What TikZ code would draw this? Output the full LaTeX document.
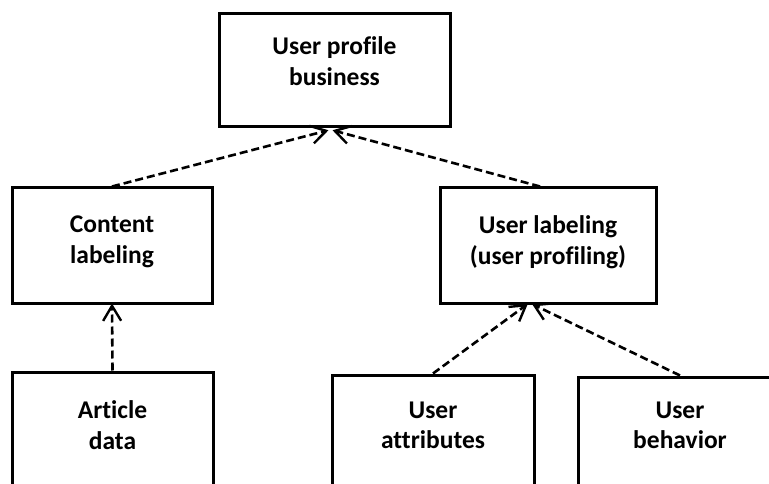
\documentclass[tikz,border=0pt]{standalone}
\usepackage{fontspec}
\newfontfamily\labelfont[RawFeature={-liga;-clig;-calt;-dlig}]{Carlito}
\usetikzlibrary{arrows.meta}
\begin{document}
\begin{tikzpicture}[x=1pt,y=-1pt,
  box/.style={draw=black, line width=3pt, fill=white, inner sep=0pt},
  lbl/.style={align=center, inner sep=0pt, text=black,
    font=\labelfont\bfseries\fontsize{25.5}{30.5}\selectfont},
  dep/.style={draw=black, line width=2.6pt, dash pattern=on 8pt off 4pt,
    -{Straight Barb[length=15pt,width=18pt,line width=2.4pt]}, shorten >=-1pt}
]
\fill[white] (0,0) rectangle (769,484);
\useasboundingbox (0,0) rectangle (769,484);
\clip (0,0) rectangle (769,484);

% boxes
\node[box, minimum width=231pt, minimum height=113pt] (biz)   at (334.5,70.5) {};
\node[box, minimum width=200pt, minimum height=115pt] (cont)  at (112,245.5) {};
\node[box, minimum width=216pt, minimum height=115pt] (ulab)  at (548,245.5) {};
\node[box, minimum width=201pt, minimum height=140pt] (art)   at (112.5,442) {};
\node[box, minimum width=202pt, minimum height=140pt] (uattr) at (433,445) {};
\node[box, minimum width=204pt, minimum height=140pt] (ubeh)  at (680,447) {};

% texts
\node[lbl] (tbiz)   at (334.5,61)  {User profile\\business};
\node[lbl] (tcont)  at (112,242)   {Content\\labeling};
\node[lbl] (tulab)  at (548,242)   {User labeling\\(user profiling)};
\node[lbl] (tart)   at (112.5,425) {Article\\data};
\node[lbl] (tuattr) at (433,425.5) {User\\attributes};
\node[lbl] (tubeh)  at (680,425.5) {User\\behavior};

% dependencies
\draw[dep] (cont.north) -- ([xshift=-7pt,yshift=-2pt]biz.south);
\draw[dep] ([xshift=-8pt]ulab.north) -- ([xshift=-1pt,yshift=-2pt]biz.south);
\draw[dep] (art.north) -- (cont.south);
\draw[dep] (uattr.north) -- ([xshift=-21pt]ulab.south);
\draw[dep] (ubeh.north) -- ([xshift=-15pt]ulab.south);
\end{tikzpicture}
\end{document}
